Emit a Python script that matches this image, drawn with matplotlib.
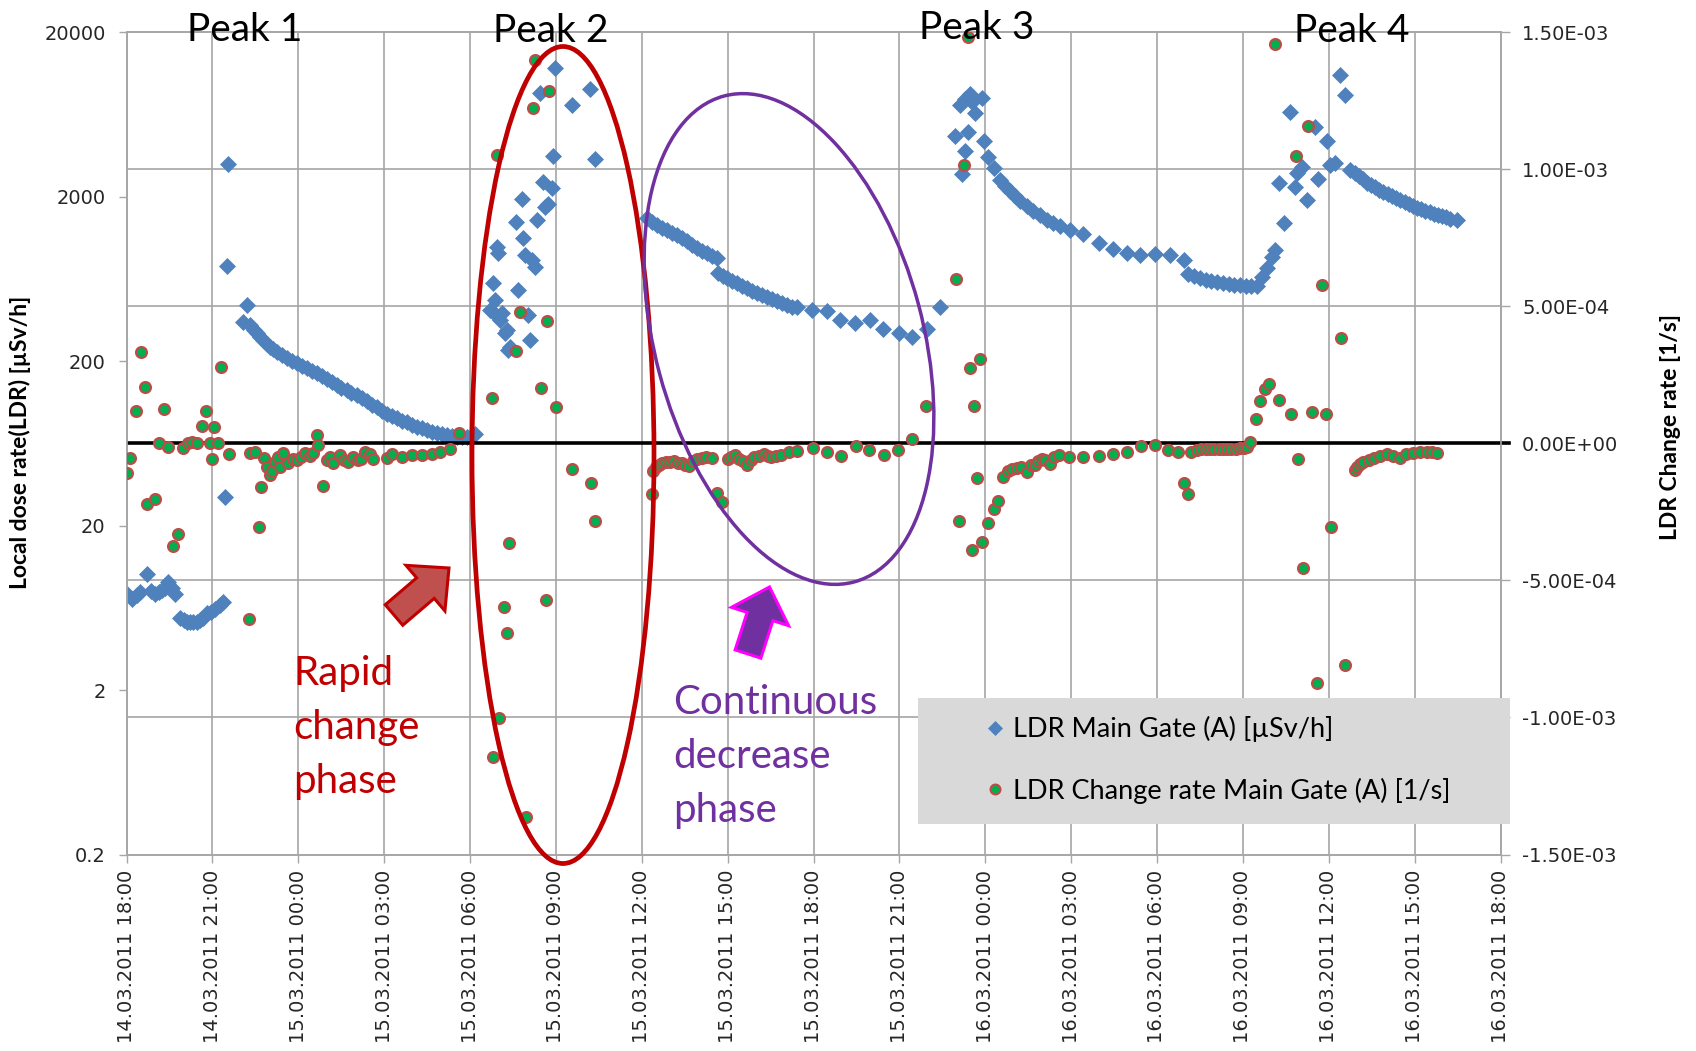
import matplotlib
matplotlib.use("Agg")
import matplotlib.dates as mdates
import matplotlib.pyplot as plt
import numpy as np
import pandas as pd
from matplotlib.patches import Ellipse, FancyArrow, Rectangle
from matplotlib.ticker import FixedLocator, FuncFormatter, NullFormatter

START = pd.Timestamp("2011-03-14 18:00")
END = pd.Timestamp("2011-03-16 18:00")

# local dose rate, Main Gate (A); time in hours after 14.03.2011 18:00
ldr_hours = [
    0.0, 0.18, 0.35, 0.47, 0.7, 0.85, 1.0, 1.12, 1.23, 1.35, 1.46, 1.58, 1.69, 1.87, 2.0, 2.1,
    2.22, 2.33, 2.45, 2.57, 2.68, 2.8, 2.95, 3.09, 3.25, 3.38,
    3.44, 3.5, 3.56, 4.08, 4.2, 4.32, 4.45, 4.55, 4.68, 4.78, 4.9, 5.01, 5.13, 5.25, 5.42, 5.6,
    5.78, 5.95, 6.12, 6.3, 6.48, 6.65, 6.82, 7.0, 7.17, 7.34, 7.51, 7.69, 7.86, 8.04, 8.21, 8.39,
    8.56, 8.74, 8.91, 9.09, 9.27, 9.44, 9.62, 9.79, 9.97, 10.14, 10.32, 10.49, 10.67, 10.84,
    11.01, 11.19, 11.37, 11.54, 11.72, 11.89, 12.05, 12.18,
    12.7, 12.82, 12.82, 12.88, 12.93, 12.99, 13.05, 13.11, 13.22, 13.28, 13.34, 13.4, 13.62,
    13.69, 13.81, 13.86, 13.92, 14.04, 14.1, 14.16, 14.27, 14.33, 14.45, 14.56, 14.62, 14.74,
    14.86, 14.89, 14.97, 15.56, 16.2, 16.37,
    18.18, 18.35, 18.53, 18.7, 18.87, 19.05, 19.22, 19.4, 19.57, 19.75, 19.92, 20.1, 20.27,
    20.45, 20.62, 20.68, 20.85, 20.97, 21.15, 21.32, 21.5, 21.67, 21.85, 22.02, 22.2, 22.37,
    22.55, 22.72, 22.9, 23.07, 23.25, 23.42, 23.94, 24.47, 24.93, 25.45, 25.98, 26.44, 26.97,
    27.44, 27.96, 28.43,
    28.95, 29.12, 29.18, 29.3, 29.3, 29.41, 29.47, 29.55, 29.65, 29.88, 29.94, 30.11, 30.29,
    30.52, 30.7, 30.87, 31.04, 31.22, 31.45, 31.68, 31.91, 32.15, 32.38, 32.62, 32.97, 33.43,
    33.96, 34.48, 34.95, 35.41, 35.94, 36.46, 36.93, 37.1, 37.3, 37.5, 37.7, 37.9, 38.1, 38.3,
    38.5, 38.7, 38.9, 39.1, 39.3, 39.49,
    39.66, 39.84, 40.01, 40.13, 40.25, 40.42, 40.66, 40.83, 40.89, 41.06, 41.24, 41.53, 41.64,
    41.94, 42.05, 42.23, 42.4, 42.58, 42.75, 42.9, 43.04, 43.19, 43.33, 43.48, 43.62, 43.77,
    43.91, 44.06, 44.21, 44.35, 44.5, 44.65, 44.79, 44.94, 45.08, 45.23, 45.37, 45.52, 45.66,
    45.81, 45.95, 46.1, 46.24, 46.48,
]
ldr_usvh = [
    7.7, 7.2, 7.6, 7.9, 10.2, 8.0, 7.7, 7.9, 8.1, 8.4, 9.1, 8.3, 7.7, 5.5, 5.3, 5.2,
    5.2, 5.2, 5.2, 5.3, 5.5, 5.85, 6.0, 6.2, 6.6, 6.9,
    30, 762, 3150, 345, 440, 330, 310, 296, 280, 269, 256, 245, 236, 228, 218, 208,
    200, 194, 187, 181, 175, 170, 162, 155, 149, 143, 138, 134, 129, 125, 119, 114,
    109, 105, 100, 96, 93, 90, 87, 85, 82, 80, 78, 76, 74.5, 73.5,
    72, 71, 70, 69, 69, 69.5, 70.5, 72,
    412, 596, 400, 471, 995, 907, 356, 391, 296, 310, 234, 245, 1410,
    542, 1930, 1120, 887, 382, 269, 827, 752, 1450, 8530, 2470, 1740, 1820,
    2250, 3540, 12100, 7230, 9010, 3380,
    1480, 1410, 1350, 1300, 1260, 1210, 1170, 1120, 1070, 1020, 972, 940, 906,
    875, 845, 685, 660, 638, 615, 595, 575, 556, 538, 522, 508, 494,
    480, 467, 452, 439, 430, 425, 409, 405, 356, 343, 356, 316, 298,
    281, 312, 430,
    4690, 7210, 2750, 3790, 7820, 4950, 8470, 7500, 6470, 8020, 4340, 3500, 2980,
    2540, 2340, 2160, 2020, 1890, 1760, 1650, 1550, 1440, 1390, 1330, 1260, 1190,
    1050, 966, 917, 880, 892, 880, 825, 683, 662, 645, 628, 614, 604, 597,
    590, 584, 579, 576, 573, 573,
    650, 738, 864, 949, 2430, 1380, 6520, 2280, 2790, 3020, 1910, 5300, 2580,
    4390, 3110, 3210, 11000, 8380, 2930, 2800, 2670, 2550, 2430, 2350, 2280, 2210,
    2140, 2070, 2010, 1960, 1910, 1860, 1810, 1760, 1720, 1680, 1640, 1610, 1580,
    1550, 1530, 1500, 1470, 1450,
]

# LDR change rate, Main Gate (A), in units of 1e-3 1/s
rate_hours = [
    0.0, 0.12, 0.33, 0.5, 0.65, 0.7, 1.0, 1.15, 1.31, 1.46, 1.64, 1.81, 1.99, 2.16, 2.3, 2.45,
    2.63, 2.78, 2.92, 2.98, 3.06, 3.21, 3.29, 3.59,
    4.29, 4.3, 4.5, 4.63, 4.7, 4.79, 4.9, 5.0, 5.1, 5.19, 5.3, 5.36, 5.48, 5.65, 5.8, 5.95,
    6.1, 6.24, 6.4, 6.53, 6.65, 6.7, 6.85, 7.0, 7.1, 7.23, 7.46, 7.6, 7.75, 7.9, 8.1, 8.2,
    8.33, 8.5, 8.62, 9.09, 9.27, 9.62, 9.97, 10.32, 10.67, 10.95, 11.3, 11.63,
    12.77, 12.82, 12.93, 13.03, 13.2, 13.28, 13.37, 13.61, 13.75, 13.96, 14.19, 14.27, 14.47,
    14.65, 14.7, 14.77, 15.0, 15.56, 16.22, 16.37,
    18.35, 18.39, 18.5, 18.6, 18.72, 18.85, 19.0, 19.12, 19.25, 19.39, 19.52, 19.66, 19.8,
    19.93, 20.1, 20.26, 20.46, 20.62, 20.79, 21.0, 21.13, 21.26, 21.4, 21.53, 21.66, 21.8,
    21.93, 22.1, 22.26, 22.4, 22.53, 22.7, 22.87, 23.13, 23.44, 23.98, 24.47, 24.97, 25.47,
    25.94, 26.45, 26.95, 27.44, 27.94,
    28.97, 29.1, 29.27, 29.4, 29.45, 29.53, 29.62, 29.7, 29.8, 29.88, 30.11, 30.29, 30.46,
    30.62, 30.81, 30.95, 31.1, 31.25, 31.45, 31.6, 31.74, 31.86, 31.98, 32.1, 32.27, 32.4,
    32.56, 32.91, 33.43, 33.96, 34.46, 34.95, 35.44, 35.94, 36.4, 36.75, 36.93, 37.1, 37.2,
    37.39, 37.55, 37.7, 37.85, 38.0, 38.15, 38.3, 38.45, 38.6, 38.75, 38.9, 39.05, 39.15, 39.26,
    39.46, 39.61, 39.76, 39.93, 40.13, 40.27, 40.69, 40.85, 40.92, 41.1, 41.26, 41.43, 41.59,
    41.76, 41.91, 42.09, 42.42, 42.58, 42.92, 43.0, 43.1, 43.21, 43.4, 43.57, 43.8, 44.03,
    44.25, 44.5, 44.7, 44.96, 45.2, 45.43, 45.6, 45.78,
]
rate_milli = [
    -0.107, -0.054, 0.119, 0.335, 0.207, -0.221, -0.204, 0.003, 0.124, -0.012, -0.373, -0.332,
    -0.018, 0.003, 0.004, 0.003, 0.064, 0.118, 0.0, -0.058, 0.061, 0.0, 0.278, -0.039,
    -0.641, -0.036, -0.03, -0.306, -0.16, -0.054, -0.085, -0.115, -0.1, -0.067, -0.05, -0.085,
    -0.036, -0.073, -0.055, -0.061, -0.05, -0.036, -0.045, -0.036, 0.031, -0.006, -0.155, -0.061,
    -0.05, -0.073, -0.042, -0.06, -0.067, -0.05, -0.061, -0.055, -0.03, -0.04, -0.058, -0.054,
    -0.039, -0.048, -0.042, -0.042, -0.039, -0.03, -0.022, 0.039,
    0.165, -1.143, 1.053, -1.003, -0.596, -0.693, -0.362, 0.337, 0.481, -1.362, 1.223, 1.399,
    0.203, -0.572, 0.447, 1.287, 0.134, -0.093, -0.146, -0.283,
    -0.186, -0.099, -0.085, -0.078, -0.07, -0.068, -0.066, -0.064, -0.07, -0.07, -0.078, -0.084,
    -0.065, -0.057, -0.052, -0.05, -0.054, -0.18, -0.213, -0.057, -0.05, -0.042, -0.055, -0.064,
    -0.077, -0.06, -0.05, -0.045, -0.04, -0.046, -0.05, -0.046, -0.042, -0.031, -0.026, -0.015,
    -0.031, -0.045, -0.008, -0.024, -0.042, -0.024, 0.018, 0.137,
    0.6, -0.283, 1.015, 1.485, 0.277, -0.39, 0.138, -0.125, 0.308, -0.358, -0.292, -0.239,
    -0.211, -0.121, -0.1, -0.092, -0.089, -0.085, -0.103, -0.08, -0.079, -0.065, -0.055, -0.06,
    -0.075, -0.05, -0.041, -0.051, -0.051, -0.044, -0.037, -0.033, -0.009, -0.005, -0.023,
    -0.03, -0.145, -0.184, -0.03, -0.023, -0.022, -0.022, -0.021, -0.02, -0.02, -0.02, -0.02,
    -0.019, -0.019, -0.018, -0.016, -0.012, 0.005,
    0.09, 0.155, 0.2, 0.217, 1.458, 0.16, 0.106, 1.048, -0.057, -0.454, 1.157, 0.116, -0.874,
    0.579, 0.106, -0.304, 0.383, -0.81, -0.096, -0.085, -0.075, -0.068, -0.06, -0.052, -0.045,
    -0.04, -0.045, -0.052, -0.04, -0.035, -0.033, -0.031, -0.032, -0.035,
]

ldr_ticks = [0.2, 2, 20, 200, 2000, 20000]
rate_ticks = [-1.5e-3, -1.0e-3, -5e-4, 0.0, 5e-4, 1.0e-3, 1.5e-3]
peak_labels = ["Peak 1", "Peak 2", "Peak 3", "Peak 4"]
legend_labels = ["LDR Main Gate (A) [µSv/h]", "LDR Change rate Main Gate (A) [1/s]"]

BLUE = "#4F81BD"
GREEN = "#00B050"
DOT_EDGE = "#BE4B48"
GRID = "#A6A6A6"
TICK_TXT = "#262626"
RED = "#C00000"
PURPLE = "#7030A0"

ldr_t = (START + pd.to_timedelta(ldr_hours, unit="h")).to_pydatetime()
rate_t = (START + pd.to_timedelta(rate_hours, unit="h")).to_pydatetime()
rate_vals = np.array(rate_milli) * 1e-3

W, H = 1696, 1051
L, R, T, B = 126.5, 1500.5, 32.4, 854.5
fig = plt.figure(figsize=(W / 100, H / 100), dpi=100)
ax = fig.add_axes([L / W, 1 - B / H, (R - L) / W, (B - T) / H])
ax.set_yscale("log")
ax.set_ylim(0.2, 20000)
ax.set_xlim(START, END)
ax2 = ax.twinx()
ax2.set_ylim(-1.5e-3, 1.5e-3)

# left axis: decades; horizontal grid follows the right axis steps
ax.yaxis.set_major_locator(FixedLocator(ldr_ticks))
ax.yaxis.set_major_formatter(FuncFormatter(lambda v, _: f"{v:g}"))
ax.yaxis.set_minor_locator(FixedLocator(np.logspace(np.log10(0.2), np.log10(20000), len(rate_ticks))))
ax.yaxis.set_minor_formatter(NullFormatter())
ax.xaxis.set_major_locator(mdates.HourLocator(byhour=range(0, 24, 3)))
ax.xaxis.set_major_formatter(mdates.DateFormatter("%d.%m.%Y %H:%M"))
ax.set_axisbelow(True)
ax.grid(True, axis="x", which="major", color=GRID, lw=1.2)
ax.grid(True, axis="y", which="minor", color=GRID, lw=1.2)
ax.tick_params(axis="y", which="minor", length=0)
ax.tick_params(axis="y", which="major", direction="out", length=6, width=1, color=GRID,
               labelsize=14, labelcolor=TICK_TXT, pad=9)
ax.tick_params(axis="x", direction="out", length=6, width=1, color=GRID,
               labelsize=14, labelcolor=TICK_TXT, pad=5, labelrotation=90)

ax2.set_yticks(rate_ticks)
ax2.yaxis.set_major_formatter(FuncFormatter(lambda v, _: f"{v:.2E}"))
ax2.tick_params(axis="y", direction="out", length=6.5, width=1, color=GRID,
                labelsize=14, labelcolor=TICK_TXT, pad=9)
for a in (ax, ax2):
    for sp in a.spines.values():
        sp.set_color(GRID)
        sp.set_linewidth(1.2)

ldr_line, = ax.plot(ldr_t, ldr_usvh, ls="none", marker="D", ms=8.2, color=BLUE, mec=BLUE,
                    mew=0.5, zorder=3)
ax2.axhline(0, xmin=0.002, xmax=1.006, color="black", lw=2.6, clip_on=False, zorder=2)
rate_line, = ax2.plot(rate_t, rate_vals, ls="none", marker="o", ms=7.8, mfc=GREEN, mec=DOT_EDGE,
                      mew=1.6, zorder=3)

ax.set_ylabel("Local dose rate(LDR) [µSv/h]", family="Lato", weight="bold", fontsize=16.5)
ax.yaxis.set_label_coords((31 - L) / (R - L), (B - 442) / (B - T))
ax2.set_ylabel("LDR Change rate [1/s]", family="Lato", weight="bold", fontsize=16.5)
ax2.yaxis.set_label_coords((1660 - L) / (R - L), (B - 427) / (B - T))

# annotation layer in pixel coordinates
ov = fig.add_axes([0, 0, 1, 1])
ov.set_xlim(0, W)
ov.set_ylim(H, 0)
ov.axis("off")

ov.add_patch(Ellipse((563, 455), 182, 817, fill=False, ec=RED, lw=3.4))
ov.add_patch(Ellipse((789, 339), 268, 503, angle=-15, fill=False, ec=PURPLE, lw=2.5))
ov.add_patch(FancyArrow(394, 615, 55, -47, width=27, head_width=60, head_length=31,
                        length_includes_head=True, fc="#C0504D", ec=RED, lw=2.2))
ov.add_patch(FancyArrow(748, 654, 21.5, -67, width=27, head_width=60, head_length=31,
                        length_includes_head=True, fc=PURPLE, ec="#FF00FF", lw=2.2))

for label, (px, py) in zip(peak_labels, [(245, 41), (551, 42), (977, 39), (1352, 42)]):
    ov.text(px, py, label, ha="center", va="baseline", fontsize=28, family="Lato", color="black")

for i, word in enumerate(["Rapid", "change", "phase"]):
    ov.text(293, 685 + 54 * i, word, ha="left", va="baseline", fontsize=29, family="Lato", color=RED)
for i, word in enumerate(["Continuous", "decrease", "phase"]):
    ov.text(673, 714 + 54 * i, word, ha="left", va="baseline", fontsize=29, family="Lato",
            color=PURPLE)

ov.add_patch(Rectangle((918, 698), 592, 126, fc="#D9D9D9", ec="none", zorder=1))
ov.legend([ldr_line, rate_line], legend_labels, loc="center left", bbox_to_anchor=(987, 760),
          bbox_transform=ov.transData, frameon=False, prop={"family": "Lato", "size": 19.5},
          handlelength=0.6, handletextpad=0.35, borderpad=0, borderaxespad=0, labelspacing=1.3,
          markerscale=0.9)

fig.savefig("out.png", dpi=100)
